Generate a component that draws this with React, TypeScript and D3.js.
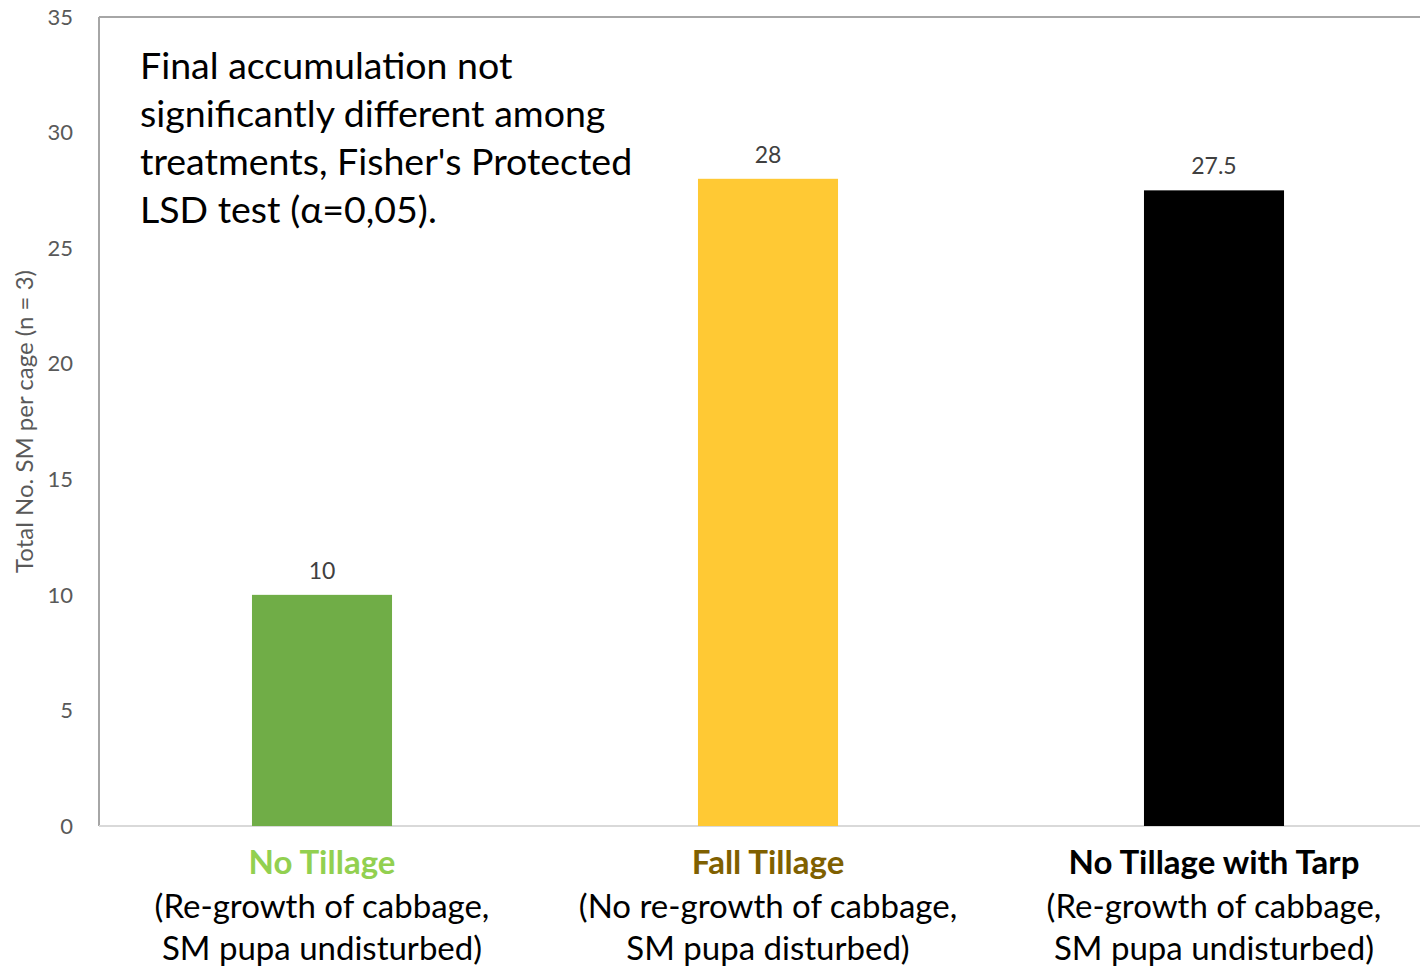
import React from "react";
import * as d3 from "d3";

const categories = ["No Tillage", "Fall Tillage", "No Tillage with Tarp"];
const subLines1 = ["(Re-growth of cabbage,", "(No re-growth of cabbage,", "(Re-growth of cabbage,"];
const subLines2 = ["SM pupa undisturbed)", "SM pupa disturbed)", "SM pupa undisturbed)"];
const values = [10, 28, 27.5];
const valueLabels = ["10", "28", "27.5"];
const barColors = ["#70AD47", "#FFC934", "#000000"];
const nameColors = ["#92D050", "#7F6000", "#000000"];
const yTicks = [0, 5, 10, 15, 20, 25, 30, 35];
const note = [
  "Final accumulation not",
  "significantly different among",
  "treatments, Fisher's Protected",
  "LSD test (\u03b1=0,05).",
];

const W = 1420;
const H = 968;
const left = 99;
const top = 17;
const bottom = 826;
const plotRight = 1437;

export default function App() {
  const y = d3.scaleLinear().domain([0, 35]).range([bottom, top]);
  const x = d3
    .scaleBand<string>()
    .domain(categories)
    .range([left, plotRight])
    .paddingInner(0.686)
    .paddingOuter(0.343);
  const font = "Lato, 'Open Sans', sans-serif";
  return (
    <svg
      width={W}
      height={H}
      style={{ position: "absolute", left: 0, top: 0, background: "#fff" }}
      fontFamily={font}
    >
      <line x1={left} x2={W} y1={top} y2={top} stroke="#a6a6a6" strokeWidth={2} />
      <line x1={left} x2={left} y1={top} y2={bottom} stroke="#a6a6a6" strokeWidth={2} />
      <line x1={left} x2={W} y1={bottom} y2={bottom} stroke="#d9d9d9" strokeWidth={2} />

      {yTicks.map((t) => (
        <text key={t} x={73} y={y(t)} dy="0.35em" textAnchor="end" fontSize={22} fill="#595959">
          {t}
        </text>
      ))}
      <text
        transform={`translate(33,${(265 + 578) / 2}) rotate(-90)`}
        textAnchor="middle"
        fontSize={24}
        fill="#595959"
      >
        Total No. SM per cage (n = 3)
      </text>

      {categories.map((c, i) => (
        <g key={c}>
          <rect
            x={x(c)!}
            y={y(values[i])}
            width={x.bandwidth()}
            height={bottom - y(values[i])}
            fill={barColors[i]}
          />
          <text
            x={x(c)! + x.bandwidth() / 2}
            y={y(values[i]) - 16}
            textAnchor="middle"
            fontSize={23}
            fill="#404040"
          >
            {valueLabels[i]}
          </text>
          <text
            x={x(c)! + x.bandwidth() / 2}
            y={874}
            textAnchor="middle"
            fontSize={33}
            fontWeight="bold"
            fill={nameColors[i]}
          >
            {c}
          </text>
          <text x={x(c)! + x.bandwidth() / 2} y={918} textAnchor="middle" fontSize={33} fill="#000">
            {subLines1[i]}
          </text>
          <text x={x(c)! + x.bandwidth() / 2} y={960} textAnchor="middle" fontSize={33} fill="#000">
            {subLines2[i]}
          </text>
        </g>
      ))}

      {note.map((l, i) => (
        <text key={i} x={140} y={79 + i * 48} fontSize={37.5} fill="#000">
          {l}
        </text>
      ))}
    </svg>
  );
}
